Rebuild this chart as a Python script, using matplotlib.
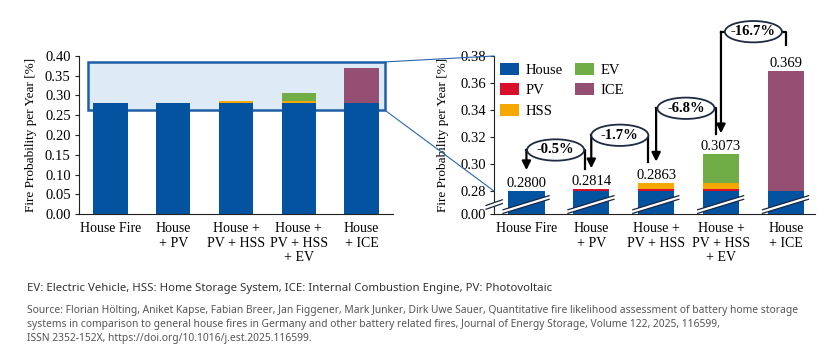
import numpy as np
import matplotlib
matplotlib.use("Agg")
import matplotlib.pyplot as plt
from matplotlib.patches import Rectangle, Ellipse, Polygon, ConnectionPatch
from matplotlib import transforms

plt.rcParams['font.family'] = ['Liberation Serif', 'DejaVu Serif']
plt.rcParams['font.size'] = 10

# Datos
categorias = ['House Fire', 'House\n+ PV', 'House +\nPV + HSS', 'House +\nPV + HSS\n+ EV', 'House\n+ ICE']
house = [0.28, 0.28, 0.28, 0.28, 0.28]
pv = [0.0, 0.0014, 0.0014, 0.0014, 0.0]
hss = [0.0, 0.0, 0.0049, 0.0049, 0.0]
ev = [0.0, 0.0, 0.0, 0.021, 0.0]
ice = [0.0, 0.0, 0.0, 0.0, 0.089]
etiquetas_valor = ['0.2800', '0.2814', '0.2863', '0.3073', '0.369']
cambios = ['-0.5%', '-1.7%', '-6.8%', '-16.7%']

componentes = [('House', house, '#0353a0'), ('PV', pv, '#d8102a'), ('HSS', hss, '#f6a800'),
               ('EV', ev, '#70ad47'), ('ICE', ice, '#954f72')]

x = np.arange(len(categorias))
totales = np.sum([c[1] for c in componentes], axis=0)

fig = plt.figure(figsize=(8.4, 3.6), dpi=100)
ax1 = fig.add_axes([79/840, 146/360, 314/840, 158/360])
ax2 = fig.add_axes([494/840, 146/360, 321/840, 158/360])

# escala rota: 0 -> 0.28 comprimido
K = 0.017 / 0.28
def fwd(y):
    y = np.asarray(y, dtype=float)
    return np.where(y < 0.28, 0.28 - (0.28 - y) * K, y)
def inv(t):
    t = np.asarray(t, dtype=float)
    return np.where(t < 0.28, 0.28 - (0.28 - t) / K, t)
ax2.set_yscale('function', functions=(fwd, inv))

# =========================================================
# 1. GRAFICA IZQUIERDA
# =========================================================
base = np.zeros(len(x))
for nombre, vals, color in componentes:
    ax1.bar(x, vals, 0.55, bottom=base, color=color, zorder=2)
    base = base + np.array(vals)

ax1.add_patch(Rectangle((-0.36, 0.263), 4.73, 0.122, facecolor='#dfeaf7',
                        edgecolor='#1f5fa6', linewidth=1.8, zorder=1))
ax1.set_xlim(-0.5, 4.5)
ax1.set_ylim(0, 0.40)
ax1.set_yticks(np.arange(0, 0.401, 0.05))
ax1.set_yticklabels([f'{v:.2f}' for v in np.arange(0, 0.401, 0.05)])
ax1.set_ylabel('Fire Probability per Year [%]', fontsize=9.5, labelpad=6)

# =========================================================
# 2. GRAFICA DERECHA (ZOOM)
# =========================================================
base = np.zeros(len(x))
handles = []
for nombre, vals, color in componentes:
    h = ax2.bar(x, vals, 0.56, bottom=base, color=color, label=nombre, zorder=2)
    handles.append(h)
    base = base + np.array(vals)

ax2.set_xlim(-0.5, 4.45)
ax2.set_ylim(0, 0.38)
ticks2 = [0.0, 0.28, 0.30, 0.32, 0.34, 0.36, 0.38]
ax2.set_yticks(ticks2)
ax2.set_yticklabels([f'{v:.2f}' for v in ticks2])
ax2.yaxis.set_minor_locator(matplotlib.ticker.NullLocator())
ax2.set_ylabel('Fire Probability per Year [%]', fontsize=9.5, labelpad=8)

for i, lbl in enumerate(etiquetas_valor):
    ax2.annotate(lbl, xy=(x[i], totales[i]), xytext=(0, 0.5), textcoords='offset points',
                 ha='center', va='bottom', fontsize=10.5, zorder=4)

# marcas de corte en las barras y en el eje
tr = transforms.blended_transform_factory(ax2.transData, ax2.transAxes)
for xi in x:
    xl, xr = xi - 0.36, xi + 0.35
    ax2.add_patch(Polygon([(xl, 0.004), (xr, 0.093), (xr, 0.116), (xl, 0.027)], closed=True,
                          facecolor='white', linewidth=0, transform=tr, zorder=3))
    ax2.plot([xl, xr], [0.004, 0.093], color='#1c2540', lw=0.9, transform=tr, zorder=3.5)
    ax2.plot([xl, xr], [0.027, 0.116], color='#1c2540', lw=0.9, transform=tr, zorder=3.5)
ta = ax2.transAxes
ax2.add_patch(Polygon([(-0.025, 0.03), (0.026, 0.066), (0.026, 0.09), (-0.025, 0.054)], closed=True,
                      facecolor='white', linewidth=0, transform=ta, zorder=3, clip_on=False))
ax2.plot([-0.025, 0.026], [0.03, 0.066], color='#1c2540', lw=0.9, transform=ta, zorder=3.5, clip_on=False)
ax2.plot([-0.025, 0.026], [0.054, 0.09], color='#1c2540', lw=0.9, transform=ta, zorder=3.5, clip_on=False)

# flechas con la variacion porcentual
derecha = [0.9, 1.88, 2.92, 4.0]
extra = [0.029, 0.035, 0.034, 0.029]
for i, txt in enumerate(cambios):
    lx, rx = x[i], derecha[i]
    nivel = max(totales[i], totales[i + 1]) + extra[i]
    punta = totales[i] + 0.0155
    inicio = totales[i + 1] + (0.019 if i == 3 else 0.015)
    ax2.plot([rx, rx, lx], [inicio, nivel, nivel], color='black', lw=1.6, clip_on=False, zorder=4)
    ax2.annotate('', xy=(lx, punta), xytext=(lx, nivel),
                 arrowprops=dict(arrowstyle='-|>', color='black', lw=1.6, mutation_scale=13,
                                 shrinkA=0, shrinkB=0),
                 annotation_clip=False, zorder=4)
    ax2.add_patch(Ellipse(((lx + rx) / 2, nivel), 0.88, 0.0158, facecolor='white',
                          edgecolor='#1f2a44', lw=1.3, zorder=5, clip_on=False))
    ax2.text((lx + rx) / 2, nivel, txt, ha='center', va='center', fontsize=10.5,
             fontweight='bold', zorder=6)

ax2.legend(handles=handles, ncol=2, loc='upper left', bbox_to_anchor=(0.02, 0.955),
           frameon=False, borderpad=0, borderaxespad=0, handlelength=1.3, handleheight=0.9,
           handletextpad=0.4, columnspacing=0.9, labelspacing=0.42, fontsize=10.5)

for ax in (ax1, ax2):
    ax.spines['top'].set_visible(False)
    ax.spines['right'].set_visible(False)
    ax.spines['left'].set_color('#222222')
    ax.spines['bottom'].set_color('#222222')
    ax.set_xticks(x)
    ax.set_xticklabels(categorias, fontsize=10, linespacing=1.15)
    ax.tick_params(axis='x', length=0, pad=6)
    ax.tick_params(axis='y', length=3, pad=3, labelsize=10.5, color='#222222')

# lineas de conexion del zoom
for ya, yb in [(0.385, 0.38), (0.263, 0.28)]:
    con = ConnectionPatch(xyA=(4.37, ya), coordsA=ax1.transData, xyB=(-0.5, yb),
                          coordsB=ax2.transData, color='#2a68ad', lw=0.8)
    fig.add_artist(con)

# textos inferiores
fig.text(27/840, 1 - 288/360,
         'EV: Electric Vehicle, HSS: Home Storage System, ICE: Internal Combustion Engine, PV: Photovoltaic',
         fontsize=8.2, family='Noto Sans', color='#333333', va='center')
fuente = ['Source: Florian Hölting, Aniket Kapse, Fabian Breer, Jan Figgener, Mark Junker, Dirk Uwe Sauer, '
          'Quantitative fire likelihood assessment of battery home storage',
          'systems in comparison to general house fires in Germany and other battery related fires, '
          'Journal of Energy Storage, Volume 122, 2025, 116599,',
          'ISSN 2352-152X, https://doi.org/10.1016/j.est.2025.116599.']
for k, linea in enumerate(fuente):
    fig.text(27/840, 1 - (311 + 14 * k)/360, linea, fontsize=7.4, family='Noto Sans',
             color='#555555', va='center')

fig.savefig('out.png', dpi=100)
